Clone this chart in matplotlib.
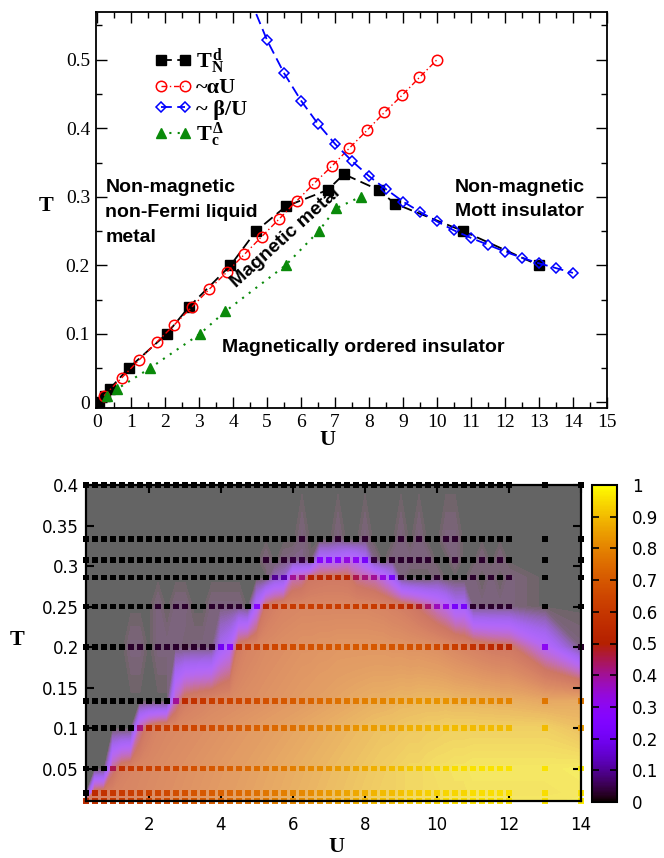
import numpy as np
import matplotlib.pyplot as plt
from matplotlib.colors import ListedColormap

plt.rcParams['font.family'] = ['Liberation Sans', 'DejaVu Sans']
plt.rcParams['mathtext.fontset'] = 'custom'
plt.rcParams['mathtext.rm'] = 'Liberation Serif'
plt.rcParams['mathtext.bf'] = 'Liberation Serif:bold'
plt.rcParams['mathtext.it'] = 'Liberation Serif:italic'

# ---- top panel: phase diagram ----
tn_u = [0.05, 0.22, 0.37, 0.92, 2.04, 2.71, 3.92, 4.67, 5.55, 6.78, 7.26, 8.28, 8.76, 10.77, 13.0]
tn_t = [0.0, 0.01, 0.02, 0.05, 0.1, 0.14, 0.2, 0.25, 0.286, 0.31, 0.333, 0.31, 0.29, 0.25, 0.2]

alpha_u = [0.2, 0.72, 1.23, 1.75, 2.26, 2.78, 3.29, 3.81, 4.33, 4.84,
           5.36, 5.87, 6.39, 6.91, 7.42, 7.94, 8.45, 8.97, 9.48, 10.0]
alpha_t = [0.01, 0.036, 0.062, 0.088, 0.113, 0.139, 0.165, 0.19, 0.216, 0.242,
           0.268, 0.294, 0.32, 0.345, 0.371, 0.397, 0.423, 0.448, 0.474, 0.5]

beta_u = [4.4, 5.0, 5.5, 6.0, 6.5, 7.0, 7.5, 8.0, 8.5, 9.0, 9.5, 10.0,
          10.5, 11.0, 11.5, 12.0, 12.5, 13.0, 13.5, 14.0]
beta_t = [0.6, 0.528, 0.48, 0.44, 0.406, 0.377, 0.352, 0.33, 0.311, 0.293, 0.278, 0.264,
          0.251, 0.24, 0.23, 0.22, 0.211, 0.203, 0.196, 0.189]

tc_u = [0.29, 0.59, 1.55, 3.02, 3.77, 5.54, 6.52, 7.02, 7.75]
tc_t = [0.01, 0.02, 0.05, 0.1, 0.133, 0.2, 0.25, 0.283, 0.3]

# ---- bottom panel: order parameter map ----
grid_u = [0.25, 0.5, 0.75, 1.0, 1.25, 1.5, 1.75, 2.0, 2.25, 2.5, 2.75, 3.0,
          3.25, 3.5, 3.75, 4.0, 4.25, 4.5, 4.75, 5.0, 5.25, 5.5, 5.75, 6.0,
          6.25, 6.5, 6.75, 7.0, 7.25, 7.5, 7.75, 8.0, 8.25, 8.5, 8.75, 9.0,
          9.25, 9.5, 9.75, 10.0, 10.25, 10.5, 10.75, 11.0, 11.25, 11.5, 11.75, 12.0,
          13.0, 14.0]
grid_t = [0.01, 0.02, 0.05, 0.1, 0.1333, 0.2, 0.25, 0.2857, 0.3077, 0.3333, 0.4]

z_001 = [0.56, 0.58, 0.6, 0.61, 0.62, 0.63, 0.64, 0.65, 0.66, 0.67,
         0.68, 0.69, 0.7, 0.71, 0.72, 0.73, 0.74, 0.75, 0.76, 0.77,
         0.78, 0.79, 0.8, 0.81, 0.82, 0.83, 0.84, 0.85, 0.86, 0.87,
         0.88, 0.89, 0.9, 0.91, 0.91, 0.92, 0.93, 0.93, 0.94, 0.94,
         0.95, 0.95, 0.95, 0.96, 0.96, 0.96, 0.96, 0.96, 0.96, 0.97]
z_002 = [0.0, 0.55, 0.58, 0.6, 0.61, 0.62, 0.63, 0.64, 0.65, 0.66,
         0.67, 0.68, 0.69, 0.7, 0.71, 0.72, 0.73, 0.74, 0.75, 0.76,
         0.77, 0.78, 0.79, 0.8, 0.81, 0.82, 0.83, 0.84, 0.85, 0.86,
         0.87, 0.88, 0.89, 0.9, 0.9, 0.91, 0.92, 0.92, 0.93, 0.93,
         0.94, 0.94, 0.94, 0.95, 0.95, 0.95, 0.95, 0.95, 0.95, 0.96]
z_005 = [0.0, 0.0, 0.0, 0.45, 0.57, 0.6, 0.62, 0.63, 0.64, 0.65,
         0.66, 0.67, 0.68, 0.69, 0.7, 0.71, 0.72, 0.73, 0.74, 0.75,
         0.76, 0.77, 0.78, 0.79, 0.8, 0.81, 0.82, 0.83, 0.84, 0.85,
         0.86, 0.87, 0.88, 0.89, 0.9, 0.91, 0.92, 0.92, 0.93, 0.94,
         0.94, 0.95, 0.95, 0.96, 0.96, 0.96, 0.96, 0.96, 0.96, 0.97]
z_010 = [0, 0, 0, 0, 0, 0, 0.42, 0.55, 0.6, 0.62,
         0.63, 0.64, 0.65, 0.66, 0.67, 0.68, 0.69, 0.7, 0.71, 0.72,
         0.73, 0.74, 0.75, 0.76, 0.77, 0.78, 0.79, 0.8, 0.81, 0.82,
         0.83, 0.84, 0.85, 0.86, 0.86, 0.87, 0.88, 0.88, 0.89, 0.89,
         0.9, 0.9, 0.9, 0.9, 0.9, 0.9, 0.9, 0.9, 0.9, 0.85]
z_013 = [0, 0, 0, 0, 0, 0, 0, 0, 0, 0,
         0.4, 0.55, 0.58, 0.6, 0.62, 0.63, 0.64, 0.65, 0.66, 0.67,
         0.68, 0.69, 0.7, 0.71, 0.72, 0.73, 0.74, 0.75, 0.76, 0.77,
         0.78, 0.79, 0.8, 0.8, 0.81, 0.82, 0.82, 0.83, 0.83, 0.83,
         0.83, 0.82, 0.82, 0.82, 0.81, 0.81, 0.8, 0.8, 0.77, 0.78]
z_020 = [0, 0, 0, 0, 0, 0.03, 0.03, 0, 0.03, 0.03,
         0.03, 0.02, 0.03, 0.03, 0.03, 0.2, 0.27, 0.55, 0.6, 0.62,
         0.64, 0.65, 0.66, 0.67, 0.68, 0.68, 0.69, 0.69, 0.7, 0.7,
         0.7, 0.7, 0.7, 0.7, 0.69, 0.69, 0.68, 0.68, 0.67, 0.66,
         0.64, 0.62, 0.6, 0.58, 0.56, 0.54, 0.53, 0.52, 0.3, 0.03]
z_025 = [0, 0, 0, 0, 0, 0, 0, 0, 0.03, 0,
         0.03, 0.03, 0, 0, 0.03, 0.03, 0.03, 0.03, 0, 0.27,
         0.52, 0.57, 0.6, 0.61, 0.62, 0.62, 0.62, 0.62, 0.62, 0.62,
         0.62, 0.62, 0.61, 0.6, 0.58, 0.56, 0.53, 0.48, 0.43, 0.37,
         0.32, 0.22, 0.22, 0.03, 0.03, 0.03, 0.03, 0.03, 0, 0]
z_029 = [0] * 21 + [0.1, 0.12, 0.4, 0.42, 0.5, 0.52, 0.53, 0.53, 0.52,
                    0.45, 0.42, 0.4, 0.33, 0.22, 0.03, 0, 0, 0, 0.03,
                    0, 0, 0, 0.03, 0, 0.03, 0, 0.03, 0, 0]
z_031 = [0] * 20 + [0.03, 0, 0.03, 0.04, 0.04, 0.01, 0.27, 0.27, 0.28, 0.33,
                    0.3, 0.22, 0.04, 0, 0.03, 0.03, 0.03, 0.03, 0.03, 0,
                    0, 0.03, 0, 0, 0.03, 0, 0.03, 0, 0, 0]
z_033 = [0] * 24 + [0.03, 0, 0, 0, 0.03, 0, 0, 0.03, 0, 0,
                    0, 0.03, 0, 0.03, 0, 0, 0.03, 0.03, 0, 0,
                    0, 0, 0, 0, 0, 0]
z_040 = [0] * 50

z = np.array([z_001, z_002, z_005, z_010, z_013, z_020, z_025, z_029, z_031, z_033, z_040])

# washed-out version of the palette for the smooth background
base = plt.get_cmap('gnuplot')(np.linspace(0, 1, 256))
base[:, :3] = 0.58 * base[:, :3] + 0.42 * (238 / 255)
washed = ListedColormap(base)

fig = plt.figure(figsize=(6.64, 8.58), dpi=100)

# ---------------- top panel ----------------
ax1 = fig.add_axes([0.144, 0.5245, 0.770, 0.4619])
ax1.plot(tn_u, tn_t, color='black', lw=1.3, dashes=(6, 3), marker='s', ms=6.5,
         label=r'T$_\mathbf{N}^{\,\mathbf{d}}$')
ax1.plot(alpha_u, alpha_t, color='red', lw=1.0, dashes=(4, 2, 1, 2), marker='o', ms=7.5,
         mfc='none', mew=1.1, label='~αU')
ax1.plot(beta_u, beta_t, color='blue', lw=1.3, dashes=(6, 3), marker='D', ms=5.5,
         mfc='none', mew=1.1, markevery=slice(1, None), label='~ β/U')
ax1.plot(tc_u, tc_t, color='#0a8a0a', lw=1.5, dashes=(1, 3), marker='^', ms=7.5,
         label=r'T$_\mathbf{c}^{\,\mathbf{\Delta}}$')

ax1.set_xlim(-0.05, 15)
ax1.set_ylim(-0.008, 0.57)
ax1.set_xticks(range(16), [str(i) for i in range(16)], family='Liberation Serif', fontsize=14)
ax1.set_xticks(np.arange(0.5, 15, 1.0), minor=True)
ax1.set_yticks([0, 0.1, 0.2, 0.3, 0.4, 0.5], ['0', '0.1', '0.2', '0.3', '0.4', '0.5'],
               family='Liberation Serif', fontsize=14)
ax1.set_yticks([0.05, 0.15, 0.25, 0.35, 0.45, 0.55], minor=True)
ax1.tick_params(which='both', direction='in', top=True, right=True, width=1)
ax1.tick_params(which='major', length=8, pad=4)
ax1.tick_params(which='minor', length=4)
for sp in ax1.spines.values():
    sp.set_linewidth(1.3)

ax1.set_xlabel('U', family='Liberation Serif', fontweight='bold', fontsize=16)
ax1.xaxis.set_label_coords(0.454, -0.056)
ax1.set_ylabel('T', family='Liberation Serif', fontweight='bold', fontsize=16,
               rotation=0, ha='center', va='center')
ax1.yaxis.set_label_coords(-0.097, 0.51)

ax1.legend(loc='upper left', bbox_to_anchor=(0.114, 0.912), frameon=False, numpoints=2,
           handlelength=1.7, handletextpad=0.2, labelspacing=0.05, borderpad=0, borderaxespad=0,
           prop={'family': 'Liberation Serif', 'weight': 'bold', 'size': 16})

txt = dict(fontsize=14, fontweight='bold', family='Liberation Sans')
ax1.text(0.24, 0.326, 'Non-magnetic\nnon-Fermi liquid\nmetal', ha='left', va='top',
         linespacing=1.6, **txt)
ax1.text(5.55, 0.24, 'Magnetic metal', ha='center', va='center', rotation=42, **txt)
ax1.text(3.66, 0.0795, 'Magnetically ordered insulator', ha='left', va='center', **txt)
ax1.text(10.53, 0.326, 'Non-magnetic\nMott insulator', ha='left', va='top',
         linespacing=1.55, **txt)

# ---------------- bottom panel ----------------
ax2 = fig.add_axes([0.1295, 0.0664, 0.7455, 0.3683])
ax2.contourf(grid_u, grid_t, z, levels=np.linspace(-0.005, 1.005, 102), cmap=washed,
             vmin=0, vmax=1, antialiased=False)
uu, tt = np.meshgrid(grid_u, grid_t)
sc = ax2.scatter(uu.ravel(), tt.ravel(), c=z.ravel(), cmap='gnuplot', vmin=0, vmax=1,
                 marker='s', s=16, linewidths=0, clip_on=False, zorder=2)
ax2.set_xlim(0.25, 14)
ax2.set_ylim(0.01, 0.4)
ax2.set_xticks([2, 4, 6, 8, 10, 12, 14], ['2', '4', '6', '8', '10', '12', '14'],
               family='DejaVu Sans', fontsize=12)
ax2.set_yticks([0.05, 0.1, 0.15, 0.2, 0.25, 0.3, 0.35, 0.4],
               ['0.05', '0.1', '0.15', '0.2', '0.25', '0.3', '0.35', '0.4'],
               family='DejaVu Sans', fontsize=12)
ax2.tick_params(direction='in', top=True, right=True, length=6, width=1.5)
ax2.tick_params(axis='x', pad=11)
ax2.tick_params(axis='y', pad=5)
for sp in ax2.spines.values():
    sp.set_linewidth(1.6)
ax2.set_xlabel('U', family='Liberation Serif', fontweight='bold', fontsize=16)
ax2.xaxis.set_label_coords(0.505, -0.115)
ax2.set_ylabel('T', family='Liberation Serif', fontweight='bold', fontsize=16,
               rotation=0, ha='center', va='center')
ax2.yaxis.set_label_coords(-0.139, 0.51)

cax = fig.add_axes([0.8916, 0.0653, 0.0372, 0.3694])
cb = fig.colorbar(sc, cax=cax)
cb_ticks = [0, 0.1, 0.2, 0.3, 0.4, 0.5, 0.6, 0.7, 0.8, 0.9, 1]
cb.set_ticks(cb_ticks, labels=['0', '0.1', '0.2', '0.3', '0.4', '0.5', '0.6', '0.7', '0.8', '0.9', '1'])
for lbl in cax.get_yticklabels():
    lbl.set_family('DejaVu Sans')
    lbl.set_fontsize(12)
cax.tick_params(direction='in', left=True, right=True, length=5, width=1.2, pad=11)
cb.outline.set_linewidth(1.5)

fig.savefig('out.png', dpi=100)
